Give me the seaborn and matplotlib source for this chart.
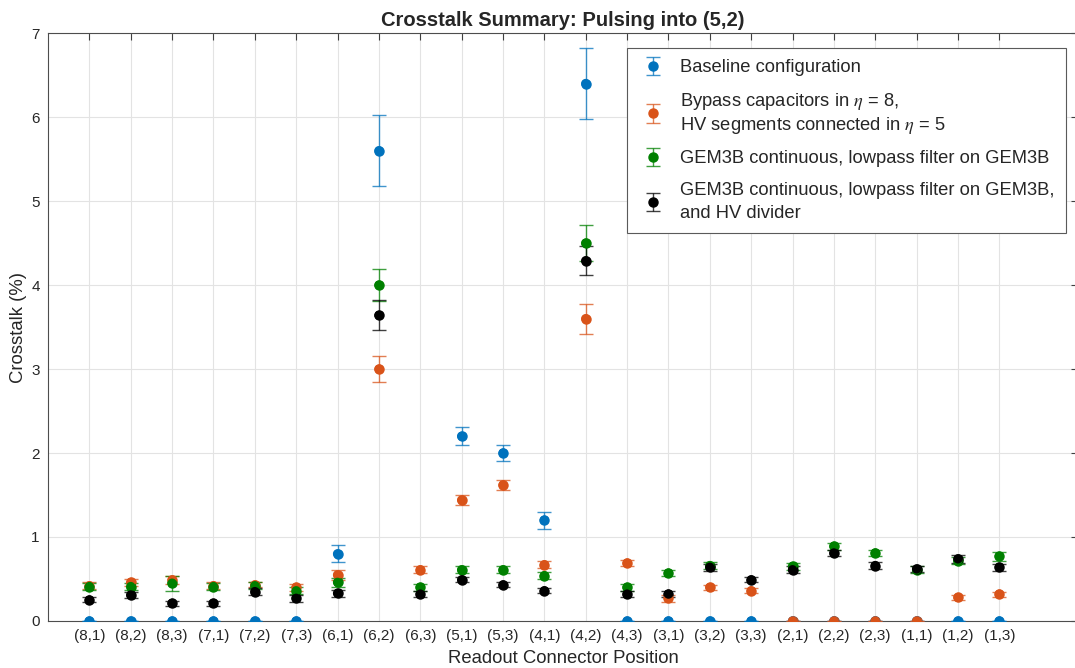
import numpy as np
import pandas as pd
import matplotlib
matplotlib.use("Agg")
import matplotlib.pyplot as plt
import seaborn as sns

# readout connector positions (x axis)
POSITIONS = ["(8,1)", "(8,2)", "(8,3)", "(7,1)", "(7,2)", "(7,3)", "(6,1)", "(6,2)",
             "(6,3)", "(5,1)", "(5,3)", "(4,1)", "(4,2)", "(4,3)", "(3,1)", "(3,2)",
             "(3,3)", "(2,1)", "(2,2)", "(2,3)", "(1,1)", "(1,2)", "(1,3)"]

baseline = [0, 0, 0, 0, 0, 0, 0.80, 5.60, np.nan, 2.20, 2.00, 1.20, 6.40, 0, 0, 0,
            0, 0, 0, 0, 0, 0, 0]
baseline_err = [0, 0, 0, 0, 0, 0, 0.10, 0.42, np.nan, 0.11, 0.10, 0.10, 0.42, 0, 0, 0,
                0, 0, 0, 0, 0, 0, 0]
bypass = [0.42, 0.46, 0.49, 0.42, 0.43, 0.40, 0.55, 3.00, 0.61, 1.44, 1.62, 0.67, 3.60,
          0.69, 0.27, 0.40, 0.36, 0, 0, 0, 0, 0.28, 0.32]
bypass_err = [0.04, 0.04, 0.05, 0.04, 0.03, 0.04, 0.06, 0.16, 0.04, 0.06, 0.06, 0.04, 0.18,
              0.04, 0.04, 0.03, 0.03, 0, 0, 0, 0, 0.03, 0.03]
gem3b = [0.41, 0.41, 0.45, 0.41, 0.42, 0.36, 0.46, 4.00, 0.40, 0.61, 0.61, 0.54, 4.50,
         0.40, 0.57, 0.66, np.nan, 0.65, 0.89, 0.81, 0.61, 0.72, 0.77]
gem3b_err = [0.04, 0.04, 0.09, 0.04, 0.04, 0.04, 0.05, 0.19, 0.04, 0.04, 0.04, 0.04, 0.21,
             0.04, 0.04, 0.04, np.nan, 0.04, 0.04, 0.04, 0.04, 0.04, 0.05]
gem3b_hv = [0.25, 0.31, 0.21, 0.21, 0.35, 0.27, 0.33, 3.64, 0.32, 0.49, 0.43, 0.36, 4.29,
            0.32, 0.32, 0.64, 0.49, 0.61, 0.81, 0.66, 0.62, 0.74, 0.64]
gem3b_hv_err = [0.03, 0.04, 0.03, 0.03, 0.04, 0.04, 0.04, 0.18, 0.04, 0.03, 0.03, 0.03, 0.17,
                0.04, 0.04, 0.04, 0.03, 0.04, 0.04, 0.04, 0.04, 0.05, 0.04]

SERIES = [
    ("Baseline configuration", baseline, baseline_err, "#0072BD"),
    ("Bypass capacitors in $\\eta$ = 8,\nHV segments connected in $\\eta$ = 5", bypass, bypass_err, "#D95319"),
    ("GEM3B continuous, lowpass filter on GEM3B", gem3b, gem3b_err, "#008000"),
    ("GEM3B continuous, lowpass filter on GEM3B,\nand HV divider", gem3b_hv, gem3b_hv_err, "#000000"),
]

sns.set_theme(style="whitegrid")
plt.rcParams["font.family"] = ["Liberation Sans", "DejaVu Sans"]
plt.rcParams["mathtext.fontset"] = "stix"

fig = plt.figure(figsize=(10.75, 6.68), dpi=100)
ax = fig.add_axes([0.0447, 0.0704, 0.958, 0.880])

x = np.arange(1, len(POSITIONS) + 1)
rows = []
for label, vals, errs, color in SERIES:
    eb = ax.errorbar(x, vals, yerr=errs, fmt="o", color=color, ecolor=color, elinewidth=1.0,
                     capsize=5, capthick=1.0, markersize=6.5, label=label, zorder=3)
    for art in eb[1] + eb[2]:
        art.set_alpha(0.75)
    for xi, v in zip(x, vals):
        rows.append({"x": xi, "y": v, "series": label})

df = pd.DataFrame(rows)
palette = {s[0]: s[3] for s in SERIES}
sns.scatterplot(data=df, x="x", y="y", hue="series", palette=palette, s=45,
                edgecolor="none", legend=False, ax=ax, zorder=4)

ax.set_xlim(0, 24.9)
ax.set_ylim(0, 7)
ax.set_xticks(x)
ax.set_xticklabels(POSITIONS)
ax.set_yticks(range(0, 8))
ax.tick_params(axis="both", direction="in", length=5, width=0.8, color="#404040",
               labelsize=11, labelcolor="#262626", top=True, right=True, pad=6)
ax.grid(True, color="#e3e3e3", linewidth=0.8)
for sp in ax.spines.values():
    sp.set_color("#4d4d4d")
    sp.set_linewidth(0.8)

ax.set_title("Crosstalk Summary: Pulsing into (5,2)", fontsize=14.5, fontweight="bold", pad=5)
ax.set_xlabel("Readout Connector Position", fontsize=13.3, color="#262626", labelpad=5)
ax.set_ylabel("Crosstalk (%)", fontsize=13.3, color="#262626", labelpad=3)

leg = ax.legend(loc="upper right", bbox_to_anchor=(0.988, 0.9745), borderaxespad=0,
                fontsize=13.2, frameon=True, fancybox=False, framealpha=1,
                edgecolor="#5a5a5a", borderpad=0.6, labelspacing=0.8,
                handlelength=1.6, handletextpad=0.7)
leg.get_frame().set_linewidth(0.8)
# plain two-line label sits tighter than the mathtext one, open it up
leg.get_texts()[-1].set_linespacing(1.45)

fig.savefig("out.png", dpi=100)
